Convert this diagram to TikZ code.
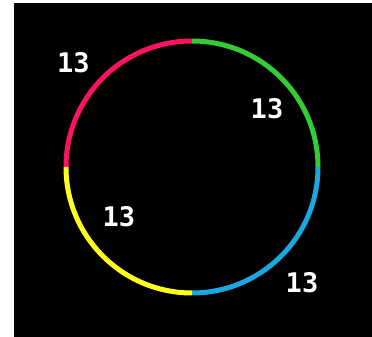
\documentclass[tikz,border=0pt]{standalone}
\usepackage{fontspec}
\newfontfamily\labelfont{DejaVu Sans Mono}
\definecolor{segpink}{HTML}{FF1166}
\definecolor{seggreen}{HTML}{33CC33}
\definecolor{segblue}{HTML}{1AA7E0}
\definecolor{segyellow}{HTML}{FFFF1A}
\tikzset{
  seg/.style={line width=5pt},
  numlabel/.style={text=white, inner sep=0pt, anchor=center, font=\labelfont\bfseries\fontsize{27}{27}\selectfont}
}
\begin{document}
\begin{tikzpicture}[x=1pt,y=1pt]
\useasboundingbox (0,0) rectangle (372,337);
\fill[white] (0,0) rectangle (372,337);
\fill[black] (14,0) rectangle (372,334);
\coordinate (c) at (192,170);
\draw[seg, segpink] ([shift={(90:126)}]c) arc (90:180:126);
\draw[seg, seggreen] ([shift={(0:126)}]c) arc (0:90:126);
\draw[seg, segblue] ([shift={(270:126)}]c) arc (270:360:126);
\draw[seg, segyellow] ([shift={(180:126)}]c) arc (180:270:126);
\node[numlabel] (l1) at (73.5,274) {13};
\node[numlabel] (l2) at (267,228.5) {13};
\node[numlabel] (l3) at (119,120) {13};
\node[numlabel] (l4) at (302,54.5) {13};
\end{tikzpicture}
\end{document}
